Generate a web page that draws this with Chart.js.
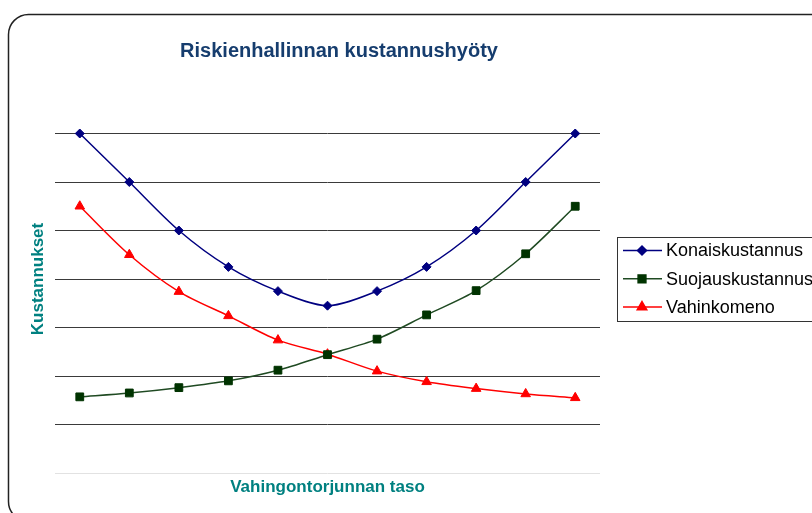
<!DOCTYPE html>
<html>
<head>
<meta charset="utf-8">
<title>Riskienhallinnan kustannushyöty</title>
<script src="https://cdn.jsdelivr.net/npm/chart.js@4/dist/chart.umd.min.js"></script>
<style>
  html, body { margin: 0; padding: 0; background: #fff; }
  #wrap { position: relative; width: 812px; height: 513px; }
</style>
</head>
<body>
<div id="wrap"><canvas id="costChart"></canvas></div>
<script>
// Data (arbitrary units, no tick labels shown)
const chartTitle = 'Riskienhallinnan kustannushyöty';
const xTitle = 'Vahingontorjunnan taso';
const yTitle = 'Kustannukset';
const levels = ['1', '2', '3', '4', '5', '6', '7', '8', '9', '10', '11'];
const konaiskustannus = [7.0, 6.0, 5.0, 4.25, 3.75, 3.45, 3.75, 4.25, 5.0, 6.0, 7.0];
const suojauskustannus = [1.57, 1.65, 1.76, 1.9, 2.12, 2.44, 2.76, 3.26, 3.76, 4.52, 5.5];
const vahinkomeno = [5.5, 4.5, 3.74, 3.24, 2.74, 2.45, 2.1, 1.88, 1.74, 1.63, 1.55];

const FONT = '"Liberation Sans", Arial, sans-serif';

// Rounded frame around the whole chart, like the Excel chart area
const framePlugin = {
    id: 'frame',
    beforeDraw(chart) {
        const ctx = chart.ctx;
        const x = 8.5, y = 14.5, w = 900, h = 507, r = 20;
        ctx.save();
        ctx.fillStyle = '#fff';
        ctx.fillRect(0, 0, chart.width, chart.height);
        ctx.beginPath();
        ctx.moveTo(x + r, y);
        ctx.lineTo(x + w - r, y);
        ctx.arcTo(x + w, y, x + w, y + r, r);
        ctx.lineTo(x + w, y + h - r);
        ctx.arcTo(x + w, y + h, x + w - r, y + h, r);
        ctx.lineTo(x + r, y + h);
        ctx.arcTo(x, y + h, x, y + h - r, r);
        ctx.lineTo(x, y + r);
        ctx.arcTo(x, y, x + r, y, r);
        ctx.closePath();
        ctx.strokeStyle = '#222';
        ctx.lineWidth = 1.5;
        ctx.stroke();
        ctx.restore();
    },
    afterDraw(chart) {
        // chart title, centred on the whole Excel chart object
        const ctx = chart.ctx;
        ctx.save();
        ctx.font = `bold 20px ${FONT}`;
        ctx.fillStyle = '#163d6e';
        ctx.textAlign = 'center';
        ctx.textBaseline = 'middle';
        ctx.fillText(chartTitle, 339, 51);
        ctx.restore();
    }
};

// Excel style legend: line sample with marker, boxed
const legendPlugin = {
    id: 'excelLegend',
    afterDraw(chart) {
        const ctx = chart.ctx;
        ctx.save();
        ctx.strokeStyle = '#333';
        ctx.lineWidth = 1;
        ctx.strokeRect(617.5, 237.5, 260, 84);
        chart.data.datasets.forEach((ds, i) => {
            const y = 250.5 + i * 28.3;
            ctx.beginPath();
            ctx.moveTo(623, y);
            ctx.lineTo(662, y);
            ctx.strokeStyle = ds.borderColor;
            ctx.lineWidth = ds.borderWidth;
            ctx.stroke();
            ctx.fillStyle = ds.pointBackgroundColor;
            ctx.strokeStyle = ds.pointBorderColor;
            Chart.helpers.drawPoint(ctx, {
                pointStyle: ds.pointStyle,
                radius: ds.pointRadius,
                rotation: 0,
                borderWidth: 1
            }, 642, y);
            ctx.fillStyle = '#000';
            ctx.font = `18px ${FONT}`;
            ctx.textAlign = 'left';
            ctx.textBaseline = 'middle';
            ctx.fillText(ds.label, 666, y + 1);
        });
        ctx.restore();
    }
};

const makeSeries = (label, data, line, marker, style, radius) => ({
    label,
    data,
    borderColor: line,
    borderWidth: 1.5,
    pointStyle: style,
    pointRadius: radius,
    pointHoverRadius: radius,
    pointBackgroundColor: marker,
    pointBorderColor: marker,
    pointBorderWidth: 1,
    tension: 0.3,
    fill: false
});

new Chart(document.getElementById('costChart'), {
    type: 'line',
    data: {
        labels: levels,
        datasets: [
            makeSeries('Konaiskustannus', konaiskustannus, '#000080', '#000080', 'rectRot', 4.5),
            makeSeries('Suojauskustannus', suojauskustannus, '#1f4a22', '#003300', 'rect', 5.5),
            makeSeries('Vahinkomeno', vahinkomeno, '#ff0000', '#ff0000', 'triangle', 5.5)
        ]
    },
    options: {
        responsive: true,
        maintainAspectRatio: false,
        animation: false,
        devicePixelRatio: 1,
        layout: { padding: { left: 24, right: 212, top: 85, bottom: 11 } },
        plugins: {
            legend: { display: false },
            title: { display: false },
            tooltip: { enabled: false }
        },
        scales: {
            x: {
                offset: true,
                grid: { display: false, drawTicks: false },
                border: { display: false },
                ticks: { display: false },
                title: {
                    display: true,
                    text: xTitle,
                    color: '#008080',
                    font: { family: FONT, size: 17, weight: 'bold' },
                    padding: { top: 4, bottom: 4 }
                },
                afterFit: scale => { scale.height = 29; }
            },
            y: {
                min: 0,
                max: 8,
                ticks: { display: false, stepSize: 1 },
                border: { display: false },
                grid: {
                    drawTicks: false,
                    lineWidth: 1,
                    color: c => c.tick.value === 0 ? '#e2e2e2'
                        : c.tick.value === 8 ? 'rgba(0,0,0,0)' : '#3a3a3a'
                },
                title: {
                    display: true,
                    text: yTitle,
                    color: '#008080',
                    font: { family: FONT, size: 17, weight: 'bold' },
                    padding: { top: 4, bottom: 4 }
                },
                afterFit: scale => { scale.width = 31; }
            }
        }
    },
    plugins: [framePlugin, legendPlugin]
});
</script>
</body>
</html>
